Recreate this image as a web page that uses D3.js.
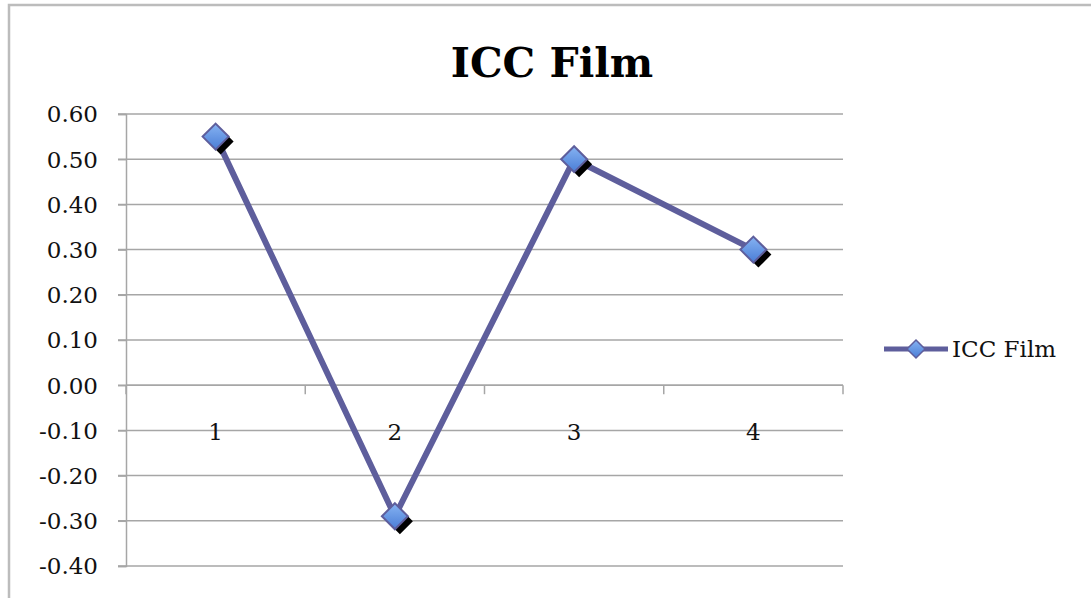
<!DOCTYPE html>
<html>
<head>
<meta charset="utf-8">
<script src="https://cdn.jsdelivr.net/npm/d3@7"></script>
<style>
  html, body { margin: 0; padding: 0; background: #fff; }
  svg { display: block; }
</style>
</head>
<body>
<svg id="chart" width="1091" height="598"></svg>
<script>
// Series data
const categories = ["1", "2", "3", "4"];
const iccFilm = [0.55, -0.29, 0.50, 0.30];
const yTicks = [0.60, 0.50, 0.40, 0.30, 0.20, 0.10, 0.00, -0.10, -0.20, -0.30, -0.40];
const seriesName = "ICC Film";
const chartTitle = "ICC Film";

const W = 1091, H = 598;
const plot = { left: 126, right: 843, top: 114, bottom: 566 };
const font = "'DejaVu Serif', 'Liberation Serif', serif";
const gridColor = "#a6a6a6";
const lineColor = "#5e5e9c";

const svg = d3.select("#chart");

// gradient for markers
const defs = svg.append("defs");
const grad = defs.append("linearGradient")
  .attr("id", "markerFill").attr("x1", 0).attr("y1", 0).attr("x2", 0).attr("y2", 1);
grad.append("stop").attr("offset", "0%").attr("stop-color", "#86b3f2");
grad.append("stop").attr("offset", "100%").attr("stop-color", "#4a7dd6");

// outer chart frame
svg.append("path")
  .attr("d", `M9,${H} L9,5 L${W},5`)
  .attr("fill", "none").attr("stroke", "#bcbcbc").attr("stroke-width", 2.5);

const x = d3.scaleBand().domain(categories).range([plot.left, plot.right]).padding(0);
const y = d3.scaleLinear().domain([-0.40, 0.60]).range([plot.bottom, plot.top]);

// horizontal gridlines
svg.append("g")
  .selectAll("line").data(yTicks).join("line")
  .attr("x1", plot.left - 8).attr("x2", plot.right)
  .attr("y1", d => y(d)).attr("y2", d => y(d))
  .attr("stroke", gridColor).attr("stroke-width", 1.5);

// y axis
const yAxis = svg.append("g")
  .attr("transform", `translate(${plot.left},0)`)
  .call(d3.axisLeft(y).tickValues(yTicks).tickFormat(d3.format(".2f")).tickSize(8).tickPadding(20));
yAxis.select(".domain").attr("stroke", gridColor).attr("stroke-width", 1.5);
yAxis.selectAll(".tick line").attr("stroke", gridColor).attr("stroke-width", 1.5);
yAxis.selectAll(".tick text")
  .attr("font-family", font).attr("font-size", 23).attr("fill", "#111")
  .attr("dy", "0.34em")
  .text(d => d3.format(".2f")(d).replace("−", "-"));

// x axis at zero with tick marks at category boundaries
const boundaries = categories.map(c => x(c)).concat([plot.right]);
const xg = svg.append("g");
xg.append("line")
  .attr("x1", plot.left).attr("x2", plot.right)
  .attr("y1", y(0)).attr("y2", y(0))
  .attr("stroke", gridColor).attr("stroke-width", 1.5);
xg.selectAll("line.tk").data(boundaries).join("line").attr("class", "tk")
  .attr("x1", d => d).attr("x2", d => d)
  .attr("y1", y(0)).attr("y2", y(0) + 9)
  .attr("stroke", gridColor).attr("stroke-width", 1.5);
xg.selectAll("text").data(categories).join("text")
  .attr("x", d => x(d) + x.bandwidth() / 2)
  .attr("y", y(0) + 55)
  .attr("text-anchor", "middle")
  .attr("font-family", font).attr("font-size", 23).attr("fill", "#111")
  .text(d => d);

// series line
const pts = categories.map((c, i) => [x(c) + x.bandwidth() / 2, y(iccFilm[i])]);
svg.append("path")
  .attr("d", d3.line()(pts))
  .attr("fill", "none").attr("stroke", lineColor).attr("stroke-width", 6)
  .attr("stroke-linejoin", "round");

// diamond markers with drop shadow
const diamond = r => `M0,${-r} L${r},0 L0,${r} L${-r},0 Z`;
svg.append("g").selectAll("path").data(pts).join("path")
  .attr("transform", d => `translate(${d[0] + 5},${d[1] + 5})`)
  .attr("d", diamond(13)).attr("fill", "#000");
svg.append("g").selectAll("path").data(pts).join("path")
  .attr("transform", d => `translate(${d[0]},${d[1]})`)
  .attr("d", diamond(13))
  .attr("fill", "url(#markerFill)").attr("stroke", lineColor).attr("stroke-width", 2);

// title
svg.append("text")
  .attr("x", 552).attr("y", 77)
  .attr("text-anchor", "middle")
  .attr("font-family", font).attr("font-weight", "bold").attr("font-size", 41)
  .attr("fill", "#000")
  .text(chartTitle);

// legend
const lg = svg.append("g").attr("transform", "translate(884,349)");
lg.append("line").attr("x1", 0).attr("x2", 64).attr("y1", 0).attr("y2", 0)
  .attr("stroke", lineColor).attr("stroke-width", 5);
lg.append("path").attr("transform", "translate(32,0)").attr("d", diamond(9))
  .attr("fill", "url(#markerFill)").attr("stroke", lineColor).attr("stroke-width", 1.5);
lg.append("text").attr("x", 68).attr("y", 8)
  .attr("font-family", font).attr("font-size", 23).attr("fill", "#111")
  .text(seriesName);
</script>
</body>
</html>
